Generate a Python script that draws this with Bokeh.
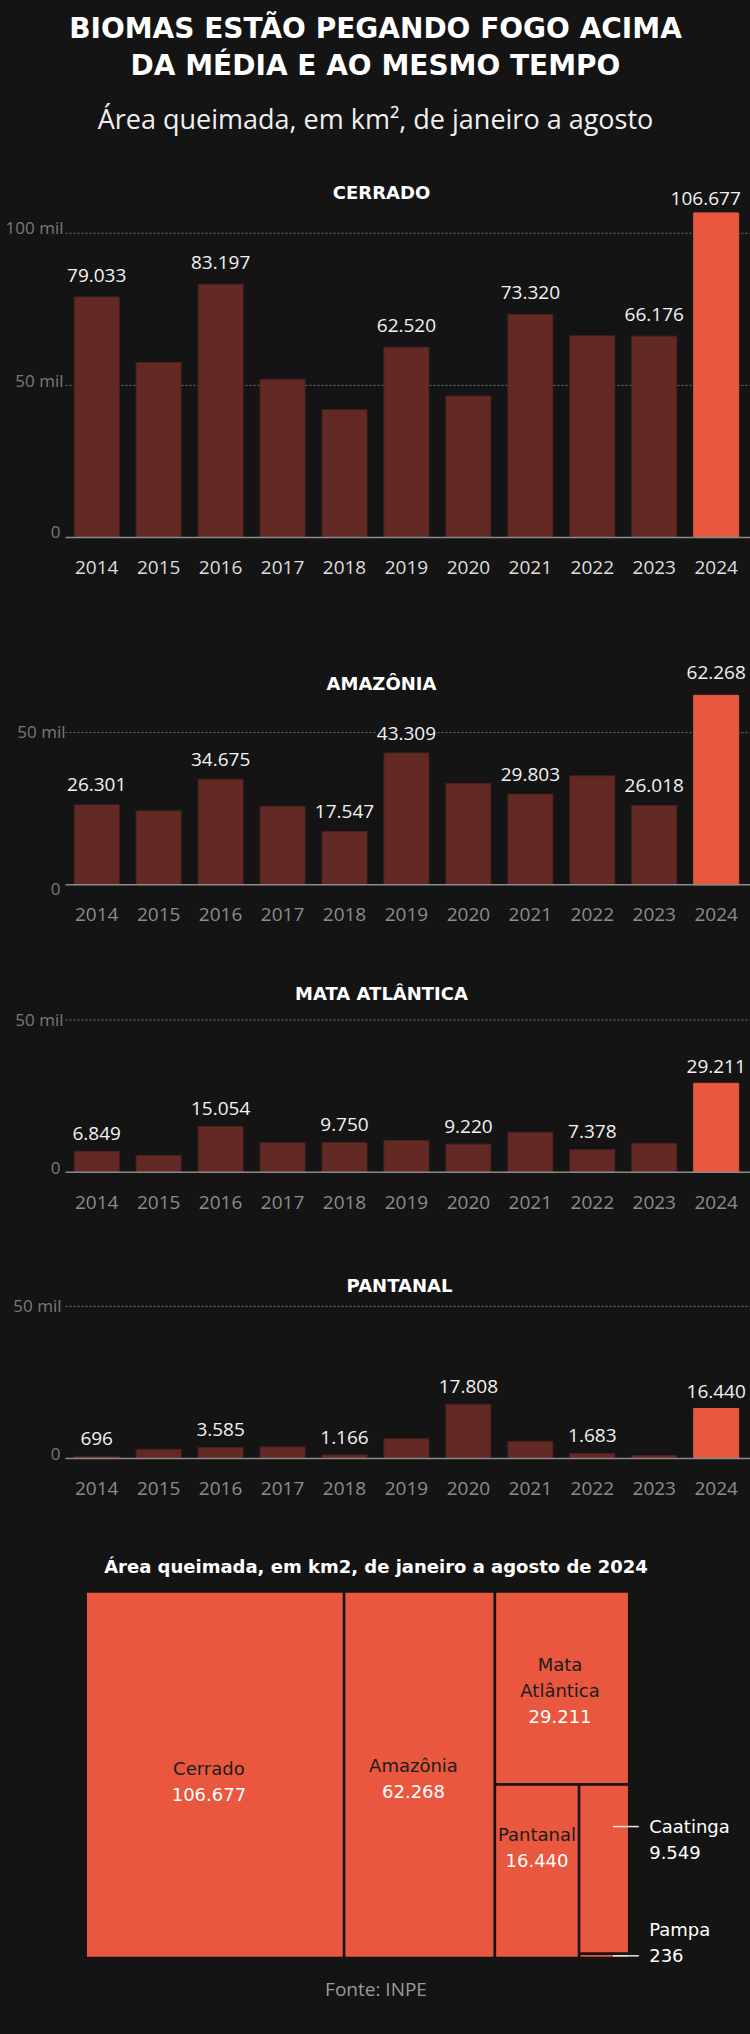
from bokeh.plotting import figure
from bokeh.layouts import column
from bokeh.models import Range1d, Label, LabelSet, ColumnDataSource
from bokeh.core.properties import value
from bokeh.embed import file_html
from bokeh.resources import INLINE

# ---------------- data ----------------
years = [2014, 2015, 2016, 2017, 2018, 2019, 2020, 2021, 2022, 2023, 2024]
cerrado = [79033, 57500, 83197, 52000, 42000, 62520, 46500, 73320, 66300, 66176, 106677]
amazonia = [26301, 24300, 34675, 25800, 17547, 43309, 33300, 29803, 35800, 26018, 62268]
mata_atlantica = [6849, 5500, 15054, 9700, 9750, 10400, 9220, 13100, 7378, 9500, 29211]
pantanal = [696, 3000, 3585, 3800, 1166, 6500, 17808, 5600, 1683, 1000, 16440]

labeled_cerrado = [2014, 2016, 2019, 2021, 2023, 2024]
labeled_amazonia = [2014, 2016, 2018, 2019, 2021, 2023, 2024]
labeled_mata = [2014, 2016, 2018, 2020, 2022, 2024]
labeled_pantanal = [2014, 2016, 2018, 2020, 2022, 2024]

ticks_cerrado = [0, 50000, 100000]
tick_labels_cerrado = ["0", "50 mil", "100 mil"]
ticks_small = [0, 50000]
tick_labels_small = ["0", "50 mil"]

biomes_2024 = ["Cerrado", "Amazônia", "Mata Atlântica", "Pantanal", "Caatinga", "Pampa"]
area_2024 = [106677, 62268, 29211, 16440, 9549, 236]

title_lines = ["BIOMAS ESTÃO PEGANDO FOGO ACIMA", "DA MÉDIA E AO MESMO TEMPO"]
subtitle = "Área queimada, em km², de janeiro a agosto"
treemap_title = "Área queimada, em km2, de janeiro a agosto de 2024"
source_note = "Fonte: INPE"

# ---------------- style ----------------
W = 750
BG = "#141414"
DARK = "#632a25"
DARK_LINE = "#4d201c"
HOT = "#e8573e"
PX_PER_UNIT = 304.3 / 100000.0
YEAR_PX = 61.95
FIRST_CENTER_PX = 96.2
AXIS_LEFT_PX = 65.0
BAR_PX = 45.0
BOLD_FONT = "DejaVu Sans"
TEXT_FONT = "Open Sans"
FIX = 0.36      # empirical baseline correction for Label / text glyphs (fraction of font size)
LS_FIX = 0.02   # same correction for LabelSet


def fmt(v):
    return f"{v:,}".replace(",", ".")


def base_fig(h, xr, yr):
    p = figure(width=W, height=h, x_range=xr, y_range=yr, output_backend="svg",
               toolbar_location=None, x_axis_type=None, y_axis_type=None, title=None,
               min_border_left=0, min_border_right=0, min_border_top=0, min_border_bottom=0,
               background_fill_color=BG, border_fill_color=BG, outline_line_color=None)
    return p


def slabel(p, h, x, y_top, text, size, color, font=TEXT_FONT, style="normal", align="center"):
    p.add_layout(Label(x=x, x_units="screen", y=h - y_top + FIX * size, y_units="screen",
                       text=text, text_align=align, text_baseline="alphabetic", text_font=font,
                       text_font_style=style, text_font_size=f"{size}px", text_color=color))


# ---------------- header ----------------
HDR_H = 150
hdr = base_fig(HDR_H, Range1d(0, 1), Range1d(0, 1))
slabel(hdr, HDR_H, 375, 38, title_lines[0], 28, "#ffffff", BOLD_FONT, "bold")
slabel(hdr, HDR_H, 375, 75, title_lines[1], 28, "#ffffff", BOLD_FONT, "bold")
slabel(hdr, HDR_H, 375, 128, subtitle, 27, "#f0f0f0", TEXT_FONT)


# ---------------- bar panels ----------------
VAL_SIZE = 19
TICK_SIZE = 17


def bar_panel(name, vals, labeled, ticks, tick_texts, st):
    h = st["h"]
    base = st["base"]
    x0 = years[0] - FIRST_CENTER_PX / YEAR_PX
    x1 = x0 + W / YEAR_PX
    yr = Range1d(-(h - base) / PX_PER_UNIT, base / PX_PER_UNIT)
    p = base_fig(h, Range1d(x0, x1), yr)
    xl = years[0] - (FIRST_CENTER_PX - AXIS_LEFT_PX) / YEAR_PX

    gt = [t for t in ticks if t > 0]
    p.segment(x0=[xl] * len(gt), x1=[x1] * len(gt), y0=gt, y1=gt,
              line_color="#727272", line_width=1, line_dash="2 2")

    fills = [HOT if y == years[-1] else DARK for y in years]
    lines = [HOT if y == years[-1] else DARK_LINE for y in years]
    p.vbar(x=years, top=vals, bottom=0, width=BAR_PX / YEAR_PX,
           fill_color=fills, line_color=lines, line_width=1)
    p.segment(x0=[xl], x1=[x1], y0=[0], y1=[0], line_color="#8a8a8a", line_width=1.5)

    lv = [vals[years.index(y)] for y in labeled]
    gaps = [st["gap_last"] if y == years[-1] else st["gap"] for y in labeled]
    shifts = [st.get("shift_last", 0) if y == years[-1] else 0 for y in labeled]
    ly = [v + (g + LS_FIX * VAL_SIZE) / PX_PER_UNIT for v, g in zip(lv, gaps)]
    lx = [y + s / YEAR_PX for y, s in zip(labeled, shifts)]
    src = ColumnDataSource(dict(x=lx, y=ly, text=[fmt(v) for v in lv]))
    p.add_layout(LabelSet(x="x", y="y", text="text", source=src, text_align="center",
                          text_baseline="alphabetic", text_font=value(TEXT_FONT),
                          text_font_size=value(f"{VAL_SIZE}px"), text_color=value("#f2f2f2"),
                          background_fill_color=BG))

    yy = [(-st["year_dy"] + FIX * VAL_SIZE) / PX_PER_UNIT] * len(years)
    p.text(x=years, y=yy, text=[str(y) for y in years], text_align="center",
           text_baseline="alphabetic", text_font=value(TEXT_FONT),
           text_font_size=f"{VAL_SIZE}px", text_color=st["year_color"])

    for t, s, dy, xr_ in zip(ticks, tick_texts, st["tick_dy"], st["tick_x"]):
        p.add_layout(Label(x=xr_, x_units="screen",
                           y=t + (FIX * TICK_SIZE - dy) / PX_PER_UNIT, y_units="data",
                           text=s, text_align="right", text_baseline="alphabetic",
                           text_font=TEXT_FONT, text_font_size=f"{TICK_SIZE}px",
                           text_color="#7a7a7a"))

    slabel(p, h, st["title_x"], st["title_y"], name, 18, "#ffffff", BOLD_FONT, "bold")
    return p


cer = bar_panel("CERRADO", cerrado, labeled_cerrado, ticks_cerrado, tick_labels_cerrado,
                dict(h=450, base=387, title_x=381, title_y=48, gap=15, gap_last=8, shift_last=-10.5,
                     year_dy=37, year_color="#dedede", tick_dy=[1, 1.5, 0.5], tick_x=[60, 63, 63]))
ama = bar_panel("AMAZÔNIA", amazonia, labeled_amazonia, ticks_small, tick_labels_small,
                dict(h=340, base=284.3, title_x=381, title_y=89, gap=13, gap_last=16,
                     year_dy=36.5, year_color="#8c8c8c", tick_dy=[10.5, 4.7], tick_x=[60, 65]))
mat = bar_panel("MATA ATLÂNTICA", mata_atlantica, labeled_mata, ticks_small, tick_labels_small,
                dict(h=290, base=231.7, title_x=381, title_y=59.3, gap=11, gap_last=10,
                     year_dy=37, year_color="#8c8c8c", tick_dy=[1.6, 5.7], tick_x=[60, 63]))
pan = bar_panel("PANTANAL", pantanal, labeled_pantanal, ticks_small, tick_labels_small,
                dict(h=290, base=228, title_x=399, title_y=61.7, gap=11, gap_last=10,
                     year_dy=37, year_color="#8c8c8c", tick_dy=[2, 5.7], tick_x=[60, 61]))


# ---------------- treemap ----------------
def squarify(vals, x0, y0, x1, y1, ratio=1.0):
    rects = []
    n = len(vals)
    total = float(sum(vals))
    i0 = 0
    while i0 < n:
        dx, dy = x1 - x0, y1 - y0
        i1 = i0
        s = vals[i1]
        i1 += 1
        mn = mx = s
        alpha = max(dy / dx, dx / dy) / (total * ratio)
        beta = s * s * alpha
        best = max(mx / beta, beta / mn)
        while i1 < n:
            v = vals[i1]
            s2 = s + v
            mn2, mx2 = min(mn, v), max(mx, v)
            beta = s2 * s2 * alpha
            r = max(mx2 / beta, beta / mn2)
            if r > best:
                break
            s, mn, mx, best = s2, mn2, mx2, r
            i1 += 1
        row = vals[i0:i1]
        if dx < dy:
            hh = dy * s / total
            xx = x0
            for v in row:
                ww = dx * v / s
                rects.append((xx, y0, xx + ww, y0 + hh))
                xx += ww
            y0 += hh
        else:
            ww = dx * s / total
            yy = y0
            for v in row:
                hh = dy * v / s
                rects.append((x0, yy, x0 + ww, yy + hh))
                yy += hh
            x0 += ww
        total -= s
        i0 = i1
    return rects


TM_H = 514
TM_LEFT, TM_RIGHT = 85.2, 628.7
TM_TOP, TM_BOTTOM = 71.0, 437.4
VW, VH = 2.5, 1.0
sx = (TM_RIGHT - TM_LEFT) / VW
sy = (TM_BOTTOM - TM_TOP) / VH
tm = base_fig(TM_H, Range1d(-TM_LEFT / sx, (W - TM_LEFT) / sx),
              Range1d((TM_H - TM_TOP) / sy, -TM_TOP / sy))

rects = squarify(area_2024, 0.0, 0.0, VW, VH)
tm.quad(left=[r[0] for r in rects], right=[r[2] for r in rects],
        top=[r[1] for r in rects], bottom=[r[3] for r in rects],
        fill_color=HOT, line_color=BG, line_width=2.5)

display_names = {"Mata Atlântica": "Mata\nAtlântica"}
inside_style = {"Cerrado": (-6, 7), "Amazônia": (-6, 4), "Mata Atlântica": (-2, 2), "Pantanal": (0, -24)}
outside_style = {"Caatinga": ("top", 42, 0), "Pampa": ("center", 0, -1)}
LINE_PX = 26
TM_SIZE = 18
CAP_HALF = 6.5 - FIX * TM_SIZE

tx, ty, tt, tc, talign = [], [], [], [], []
lx0, lx1, ly = [], [], []
for name, v, r in zip(biomes_2024, area_2024, rects):
    lines = display_names.get(name, name).split("\n") + [fmt(v)]
    colors = ["#1c1c1c"] * (len(lines) - 1) + ["#ffffff"]
    if name in inside_style:
        dxp, dyp = inside_style[name]
        cx = (r[0] + r[2]) / 2 + dxp / sx
        cy = (r[1] + r[3]) / 2 + dyp / sy
        n = len(lines)
        for k, (s, c) in enumerate(zip(lines, colors)):
            tx.append(cx)
            ty.append(cy + ((k - (n - 1) / 2) * LINE_PX + CAP_HALF) / sy)
            tt.append(s)
            tc.append(c)
            talign.append("center")
    else:
        anchor, off, shift = outside_style[name]
        yline = (r[1] + off / sy) if anchor == "top" else (r[1] + r[3]) / 2
        lx0.append(r[2] - 16.3 / sx)
        lx1.append(r[2] + 9.6 / sx)
        ly.append(yline)
        for k, s in enumerate(lines):
            tx.append(r[2] + 20 / sx)
            ty.append(yline + ((k + shift) * LINE_PX + CAP_HALF) / sy)
            tt.append(s)
            tc.append("#ffffff")
            talign.append("left")

tm.segment(x0=lx0, x1=lx1, y0=ly, y1=ly, line_color="#e6e6e6", line_width=1.5)
tm.text(x=tx, y=ty, text=tt, text_color=tc, text_align=talign, text_baseline="alphabetic",
        text_font=value(BOLD_FONT), text_font_size=f"{TM_SIZE}px")

slabel(tm, TM_H, 375.5, 52.5, treemap_title, 18, "#ffffff", BOLD_FONT, "bold")
slabel(tm, TM_H, 375.5, 475, source_note, 19, "#9a9a9a", TEXT_FONT)

layout = column(hdr, cer, ama, mat, pan, tm, spacing=0)
page_style = "{% block postamble %}<style>html, body { background: #141414; }</style>{% endblock %}"
open("out.html", "w").write(file_html(layout, INLINE, template=page_style))
